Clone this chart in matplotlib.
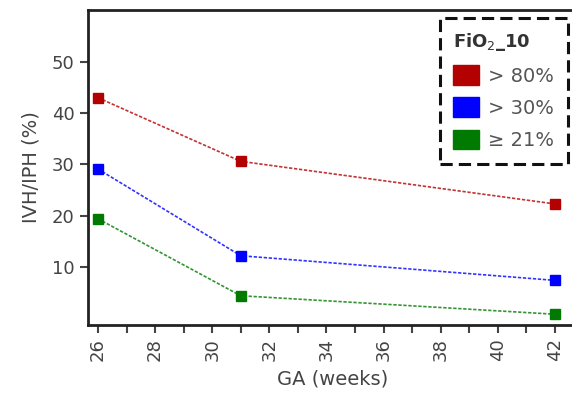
import matplotlib.pyplot as plt
from matplotlib.ticker import MultipleLocator

ga = [26, 31, 42]
red_vals = [43.0, 30.6, 22.3]
blue_vals = [29.1, 12.2, 7.4]
green_vals = [19.4, 4.4, 0.8]
labels = ['> 80%', '> 30%', '\u2265 21%']
colors = ['#b30000', '#0000ff', '#007a00']

fig = plt.figure(figsize=(5.72, 3.99), dpi=100)
ax = fig.add_axes([88 / 572, 1 - 325 / 399, 1 - 88 / 572 + 0.01, 315 / 399])

for vals, c in zip([red_vals, blue_vals, green_vals], colors):
    ax.plot(ga, vals, color=c, lw=1.2, ls=(0, (2, 1)), alpha=0.8)
    ax.plot(ga, vals, color=c, lw=0, marker='s', markersize=6.5)

ax.set_xlim(25.65, 42.8)
ax.set_ylim(-1.3, 60.1)
ax.set_yticks([10, 20, 30, 40, 50])
ax.xaxis.set_major_locator(MultipleLocator(2))
ax.xaxis.set_minor_locator(MultipleLocator(1))
ax.tick_params(axis='x', which='major', rotation=90, length=6, width=1.5, labelsize=13, colors='#444444')
ax.tick_params(axis='x', which='minor', length=6, width=1.5, color='#444444')
ax.tick_params(axis='y', length=6, width=1.5, labelsize=13, colors='#444444')
for s in ax.spines.values():
    s.set_linewidth(2)
    s.set_color('#222222')

ax.set_xlabel('GA (weeks)', fontsize=14, color='#444444', labelpad=6)
ax.set_ylabel('IVH/IPH (%)', fontsize=14, color='#444444', labelpad=8)

leg = ax.legend(handles=[plt.Rectangle((0, 0), 1, 1, color=c) for c in colors], labels=labels,
                title='FiO$_2$_10', loc='upper right', bbox_to_anchor=(0.98, 0.975),
                borderaxespad=0, fontsize=14, title_fontsize=13, handlelength=1.3,
                handleheight=1.2, handletextpad=0.5, fancybox=False, framealpha=1,
                labelspacing=0.6, borderpad=0.7)
leg.get_frame().set_edgecolor('#111111')
leg.get_frame().set_linewidth(2.2)
leg.get_frame().set_linestyle((0, (4, 2)))
leg.get_title().set_color('#333333')
leg.get_title().set_fontweight('bold')
leg._legend_box.align = 'left'
for t in leg.get_texts():
    t.set_color('#555555')

fig.savefig('out.png', dpi=100)
